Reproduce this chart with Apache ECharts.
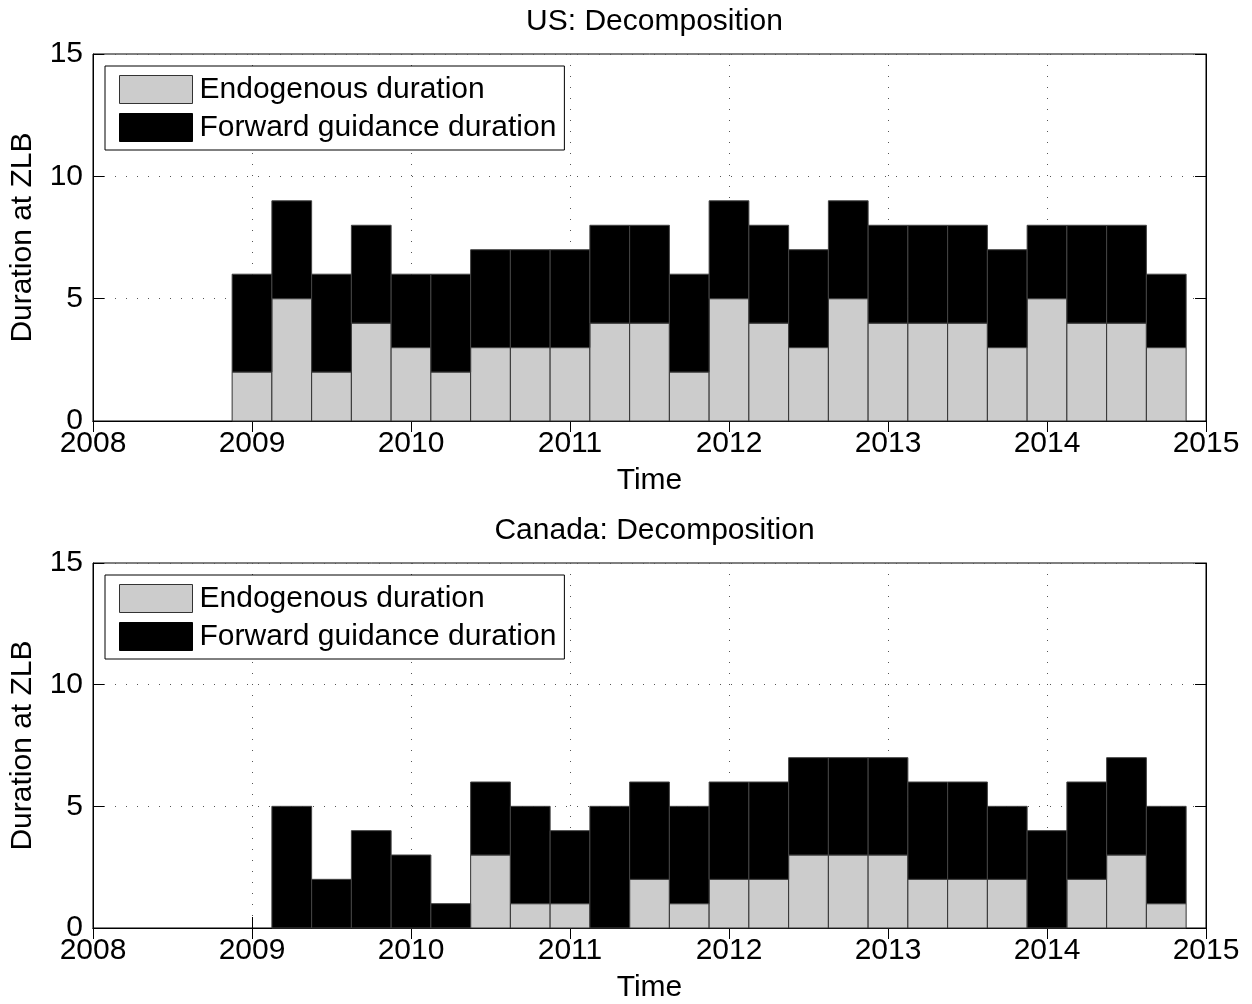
<!DOCTYPE html>
<html>
<head>
<meta charset="utf-8">
<script src="https://cdn.jsdelivr.net/npm/echarts@6/dist/echarts.min.js"></script>
<style>
html,body{margin:0;padding:0;background:#fff;}
#chart{width:1252px;height:1004px;}
</style>
</head>
<body>
<div id="chart"></div>
<script>
// Quarter positions (decimal years)
const quarters = [2009.00, 2009.25, 2009.50, 2009.75, 2010.00, 2010.25, 2010.50, 2010.75,
                  2011.00, 2011.25, 2011.50, 2011.75, 2012.00, 2012.25, 2012.50, 2012.75,
                  2013.00, 2013.25, 2013.50, 2013.75, 2014.00, 2014.25, 2014.50, 2014.75];
const xTicks = [2008, 2009, 2010, 2011, 2012, 2013, 2014, 2015];
const yTicks = [0, 5, 10, 15];

// US
const usEndogenous = [2, 5, 2, 4, 3, 2, 3, 3, 3, 4, 4, 2, 5, 4, 3, 5, 4, 4, 4, 3, 5, 4, 4, 3];
const usForward    = [4, 4, 4, 4, 3, 4, 4, 4, 4, 4, 4, 4, 4, 4, 4, 4, 4, 4, 4, 4, 3, 4, 4, 3];
// Canada
const caEndogenous = [0, 0, 0, 0, 0, 0, 3, 1, 1, 0, 2, 1, 2, 2, 3, 3, 3, 2, 2, 2, 0, 2, 3, 1];
const caForward    = [0, 5, 2, 4, 3, 1, 3, 4, 3, 5, 4, 4, 4, 4, 4, 4, 4, 4, 4, 3, 4, 4, 4, 4];

const titles = ['US: Decomposition', 'Canada: Decomposition'];
const seriesNames = ['Endogenous duration', 'Forward guidance duration'];

const FONT = "'Liberation Sans', Arial, Helvetica, sans-serif";
const FS = 30;
const BAR_HALF = 0.125;

function buildData(endo, fwd) {
  const e = [], f = [];
  for (let i = 0; i < quarters.length; i++) {
    e.push([quarters[i], 0, endo[i]]);
    f.push([quarters[i], endo[i], endo[i] + fwd[i]]);
  }
  return [e, f];
}

function renderBar(params, api) {
  const x = api.value(0), lo = api.value(1), hi = api.value(2);
  if (hi - lo <= 0) return null;
  const p0 = api.coord([x - BAR_HALF, hi]);
  const p1 = api.coord([x + BAR_HALF, lo]);
  return {
    type: 'rect',
    shape: {x: p0[0], y: p0[1], width: p1[0] - p0[0], height: p1[1] - p0[1]},
    style: api.style()
  };
}

const panelTop = [54, 563];
const panelH = 367;
const gridLeft = 93, gridRight = 46;

const grids = [], xAxes = [], yAxes = [], series = [], legends = [], titleComps = [];
const colors = ['#cccccc', '#000000'];
const edges = ['#333333', '#444444'];

const dataSets = [buildData(usEndogenous, usForward), buildData(caEndogenous, caForward)];

const gridLine = {show: true, lineStyle: {color: '#555', width: 1, type: [1, 10]}};

for (let p = 0; p < 2; p++) {
  grids.push({left: gridLeft, right: gridRight, top: panelTop[p], height: panelH,
              show: true, borderColor: '#000', borderWidth: 1, backgroundColor: 'transparent'});
  const xb = xAxes.length;
  xAxes.push({
    type: 'value', gridIndex: p, min: xTicks[0], max: xTicks[xTicks.length - 1], interval: 1,
    position: 'bottom',
    name: 'Time', nameLocation: 'middle', nameGap: 45,
    nameTextStyle: {fontFamily: FONT, fontSize: FS, color: '#000'},
    axisLine: {show: true, lineStyle: {color: '#000', width: 1}},
    axisTick: {show: true, inside: true, length: 11, lineStyle: {color: '#000'}},
    axisLabel: {fontFamily: FONT, fontSize: FS, color: '#000', margin: 8,
                formatter: function (v) { return String(v); }},
    splitLine: gridLine
  });
  xAxes.push({
    type: 'value', gridIndex: p, min: xTicks[0], max: xTicks[xTicks.length - 1], interval: 1,
    position: 'top',
    axisLine: {show: true, lineStyle: {color: '#000', width: 1}},
    axisTick: {show: true, inside: true, length: 11, lineStyle: {color: '#000'}},
    axisLabel: {show: false},
    splitLine: {show: false}
  });
  const yb = yAxes.length;
  yAxes.push({
    type: 'value', gridIndex: p, min: yTicks[0], max: yTicks[yTicks.length - 1], interval: 5,
    position: 'left',
    name: 'Duration at ZLB', nameLocation: 'middle', nameGap: 55, nameRotate: 90,
    nameTextStyle: {fontFamily: FONT, fontSize: FS, color: '#000'},
    axisLine: {show: true, lineStyle: {color: '#000', width: 1}},
    axisTick: {show: true, inside: true, length: 11, lineStyle: {color: '#000'}},
    axisLabel: {fontFamily: FONT, fontSize: FS, color: '#000', margin: 10},
    splitLine: gridLine
  });
  yAxes.push({
    type: 'value', gridIndex: p, min: yTicks[0], max: yTicks[yTicks.length - 1], interval: 5,
    position: 'right',
    axisLine: {show: true, lineStyle: {color: '#000', width: 1}},
    axisTick: {show: true, inside: true, length: 11, lineStyle: {color: '#000'}},
    axisLabel: {show: false},
    splitLine: {show: false}
  });
  for (let s = 0; s < 2; s++) {
    series.push({
      type: 'custom', name: seriesNames[s], xAxisIndex: xb, yAxisIndex: yb,
      renderItem: renderBar, data: dataSets[p][s],
      encode: {x: 0, y: [1, 2]},
      itemStyle: {color: colors[s], borderColor: edges[s], borderWidth: 1},
      z: 2 + s, silent: true, animation: false
    });
  }
  legends.push({
    orient: 'vertical', left: 105, top: panelTop[p] + 12,
    padding: [8, 8, 7, 14], itemGap: 7, itemWidth: 73, itemHeight: 28,
    borderColor: '#000', borderWidth: 1, backgroundColor: '#fff',
    icon: 'rect', selectedMode: false,
    textStyle: {fontFamily: FONT, fontSize: FS, color: '#000', lineHeight: 28, padding: [3, 0, 0, 2]},
    data: [
      {name: seriesNames[0], itemStyle: {color: colors[0], borderColor: '#333', borderWidth: 1}},
      {name: seriesNames[1], itemStyle: {color: colors[1], borderColor: '#000', borderWidth: 1}}
    ]
  });
  titleComps.push({
    text: titles[p], left: gridLeft + (1252 - gridLeft - gridRight) / 2, textAlign: 'center',
    top: panelTop[p] - 52,
    textStyle: {fontFamily: FONT, fontSize: FS, fontWeight: 'normal', color: '#000'}
  });
}

const chart = echarts.init(document.getElementById('chart'), null, {renderer: 'canvas'});
chart.setOption({
  animation: false,
  backgroundColor: '#fff',
  title: titleComps,
  legend: legends,
  grid: grids,
  xAxis: xAxes,
  yAxis: yAxes,
  series: series
});
</script>
</body>
</html>
